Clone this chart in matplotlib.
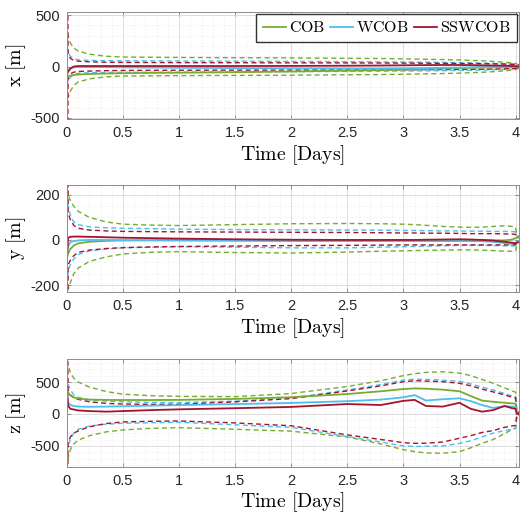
import matplotlib
matplotlib.use('Agg')
import matplotlib.pyplot as plt
from matplotlib.ticker import MultipleLocator

# time axis [days]
t = [0, 0.01, 0.03, 0.06, 0.1, 0.2, 0.35, 0.5, 0.75, 1.0, 1.5, 2.0, 2.5, 2.8, 3.0,
     3.1, 3.2, 3.35, 3.5, 3.6, 3.7, 3.8, 3.9, 3.97, 4.0, 4.01, 4.03]

# ---- x [m]
cob_x = [-100, -95, -88, -82, -78, -72, -68, -65, -62, -60, -55, -48, -40, -35, -30,
         -27, -24, -20, -15, -12, -10, -8, -5, -3, -1, 0, 2]
wcob_x = [-60, -40, -15, -8, -5, -5, -6, -8, -10, -12, -15, -18, -20, -20, -18,
          -17, -15, -12, -10, -8, -6, -5, -3, -2, 0, 1, 2]
ssw_x = [-80, -50, -20, 0, 5, 5, 5, 5, 5, 5, 5, 6, 8, 10, 12,
         13, 14, 15, 15, 14, 12, 10, 8, 5, 3, 1, 0]
cob_x_hi = [320, 290, 230, 180, 150, 120, 100, 92, 90, 88, 86, 84, 80, 78, 75,
            73, 71, 68, 64, 60, 56, 50, 42, 35, 30, 22, 18]
cob_x_lo = [-320, -300, -240, -185, -150, -120, -100, -92, -90, -88, -86, -84, -80, -78, -75,
            -73, -71, -68, -64, -60, -56, -50, -42, -35, -30, -22, -18]
wcob_x_hi = [200, 140, 100, 75, 65, 60, 57, 56, 55, 54, 52, 50, 47, 45, 44,
             43, 42, 40, 38, 36, 34, 31, 27, 24, 20, 16, 14]
wcob_x_lo = [-200, -150, -105, -78, -66, -60, -57, -56, -55, -54, -52, -50, -47, -45, -44,
             -43, -42, -40, -38, -36, -34, -31, -27, -24, -20, -16, -14]
ssw_x_hi = [2000, 120, 80, 60, 52, 46, 42, 40, 39, 38, 37, 36, 35, 34, 33,
            33, 32, 31, 30, 29, 28, 26, 24, 22, 20, 16, 14]
ssw_x_lo = [-2000, -100, -70, -55, -48, -44, -40, -38, -37, -36, -35, -34, -33, -32, -31,
            -31, -30, -29, -28, -27, -26, -24, -22, -20, -18, -15, -13]

# ---- y [m]
cob_y = [-80, -60, -40, -25, -15, -8, -4, -2, -1, 0, 0, 0, 0, 0, 0,
         0, 0, 0, 0, 0, 0, -1, -2, 2, 8, 10, 12]
wcob_y = [-50, -30, -10, -5, -2, 0, 0, -1, -2, -3, -4, -5, -5, -5, -5,
          -5, -5, -5, -5, -5, -6, -8, -14, -18, -12, -8, -5]
ssw_y = [-80, 10, 14, 15, 15, 14, 12, 10, 8, 6, 3, 1, 0, 0, 0,
         0, 1, 2, 3, 2, 0, -3, -8, -12, -15, -12, -10]
cob_y_hi = [230, 200, 175, 150, 127, 100, 80, 70, 66, 64, 68, 72, 73, 72, 70,
            68, 65, 60, 57, 56, 57, 60, 63, 60, 55, 25, 20]
cob_y_lo = [-230, -220, -190, -150, -125, -95, -75, -62, -55, -52, -56, -58, -54, -50, -48,
            -47, -46, -45, -44, -44, -45, -47, -50, -50, -48, -22, -18]
wcob_y_hi = [200, 150, 110, 80, 68, 58, 54, 52, 50, 48, 46, 45, 44, 43, 42,
             42, 41, 40, 40, 39, 39, 38, 38, 37, 36, 18, 14]
wcob_y_lo = [-200, -140, -110, -85, -65, -48, -40, -35, -32, -30, -32, -35, -35, -32, -30,
             -29, -28, -26, -24, -24, -24, -25, -26, -26, -25, -12, -10]
ssw_y_hi = [2000, 120, 90, 65, 52, 44, 40, 38, 37, 36, 35, 34, 33, 32, 31,
            31, 30, 30, 29, 28, 28, 28, 27, 26, 25, 12, 10]
ssw_y_lo = [-2000, -110, -90, -70, -55, -45, -38, -34, -31, -29, -27, -25, -24, -23, -22,
            -22, -22, -22, -22, -22, -22, -22, -22, -22, -21, -10, -8]

# ---- z [m]
cob_z = [390, 330, 290, 260, 240, 225, 220, 218, 218, 220, 235, 262, 312, 355, 390,
         400, 395, 380, 355, 280, 210, 190, 175, 165, 160, 20, 0]
wcob_z = [330, 180, 140, 125, 115, 112, 115, 120, 130, 138, 155, 172, 200, 225, 260,
          295, 210, 230, 245, 200, 140, 95, 120, 115, 110, 5, -5]
ssw_z = [400, 130, 80, 70, 55, 45, 36, 45, 60, 72, 90, 110, 155, 140, 205,
         220, 125, 115, 175, 80, 36, 60, 125, 90, 80, 10, -10]
cob_z_hi = [850, 760, 650, 560, 500, 420, 350, 310, 285, 275, 270, 320, 430, 520, 600,
            630, 650, 660, 640, 600, 540, 480, 410, 360, 340, 60, 40]
cob_z_lo = [-850, -700, -560, -470, -410, -340, -280, -250, -225, -215, -240, -270, -360, -470, -560,
            -590, -610, -615, -590, -530, -460, -400, -310, -240, -220, -60, -40]
wcob_z_hi = [600, 470, 380, 300, 260, 220, 200, 190, 180, 177, 200, 250, 375, 460, 530,
             545, 540, 530, 510, 470, 420, 375, 320, 280, 270, 40, 30]
wcob_z_lo = [-600, -500, -400, -300, -240, -190, -160, -146, -138, -130, -170, -210, -354, -440, -500,
             -510, -505, -500, -460, -420, -360, -300, -260, -240, -230, -40, -30]
ssw_z_hi = [2000, 380, 300, 250, 229, 190, 165, 155, 150, 151, 190, 240, 360, 440, 505,
            520, 515, 505, 480, 440, 390, 345, 300, 260, 250, 35, 25]
ssw_z_lo = [-2000, -450, -360, -300, -266, -200, -150, -125, -115, -110, -140, -185, -328, -400, -450,
            -460, -458, -440, -380, -340, -290, -260, -210, -188, -180, -30, -20]

labels = ['COB', 'WCOB', 'SSWCOB']
colors = ['#77AC30', '#4DBEEE', '#A2142F']

plt.rcParams['mathtext.fontset'] = 'cm'
plt.rcParams['font.family'] = ['Liberation Sans', 'DejaVu Sans']

fig = plt.figure(figsize=(5.2, 5.13), dpi=100)

panels = [
    ([0.1288, 0.768, 0.8692, 0.2086], 'x', (cob_x, wcob_x, ssw_x),
     ((cob_x_hi, cob_x_lo), (wcob_x_hi, wcob_x_lo), (ssw_x_hi, ssw_x_lo)),
     (-510, 530), [-500, 0, 500], 100),
    ([0.1288, 0.4308, 0.8692, 0.2086], 'y', (cob_y, wcob_y, ssw_y),
     ((cob_y_hi, cob_y_lo), (wcob_y_hi, wcob_y_lo), (ssw_y_hi, ssw_y_lo)),
     (-231, 244), [-200, 0, 200], 50),
    ([0.1288, 0.0897, 0.8692, 0.2105], 'z', (cob_z, wcob_z, ssw_z),
     ((cob_z_hi, cob_z_lo), (wcob_z_hi, wcob_z_lo), (ssw_z_hi, ssw_z_lo)),
     (-830, 860), [-500, 0, 500], 100),
]

dash = (0, (3.6, 2.4))
for k, (pos, name, est, bounds, ylim, yticks, yminor) in enumerate(panels):
    ax = fig.add_axes(pos)
    lines = []
    for i in range(3):
        hi, lo = bounds[i]
        ax.plot(t, hi, color=colors[i], lw=1.0, linestyle=dash)
        ax.plot(t, lo, color=colors[i], lw=1.0, linestyle=dash)
    for i in range(3):
        ln, = ax.plot(t, est[i], color=colors[i], lw=1.3, label=r'$\mathrm{%s}$' % labels[i])
        lines.append(ln)

    ax.set_xlim(0, 4.03)
    ax.set_ylim(*ylim)
    ax.set_xticks([0, 0.5, 1, 1.5, 2, 2.5, 3, 3.5, 4])
    ax.set_xticklabels(['0', '0.5', '1', '1.5', '2', '2.5', '3', '3.5', '4'])
    ax.set_yticks(yticks)
    ax.set_yticklabels([str(v) for v in yticks])
    ax.xaxis.set_minor_locator(MultipleLocator(0.1))
    ax.yaxis.set_minor_locator(MultipleLocator(yminor))
    ax.grid(True, which='major', color='#d8d8d8', lw=0.6)
    ax.grid(True, which='minor', color='#e6e6e6', lw=0.5, linestyle=':')
    ax.set_axisbelow(True)
    ax.tick_params(which='both', direction='in', top=True, right=True,
                   labelsize=10.5, colors='#262626', pad=5)
    ax.tick_params(which='major', length=3, width=0.6, color='#808080')
    ax.tick_params(which='minor', length=0)
    for sp in ax.spines.values():
        sp.set_color('#8c8c8c')
        sp.set_linewidth(0.7)

    ax.set_xlabel(r'$\mathrm{Time\ [Days]}$', fontsize=14.3, labelpad=2)
    ax.set_ylabel(r'$\mathrm{%s\ [m]}$' % name, fontsize=14.3, labelpad=2)

    if k == 0:
        ax.legend(handles=lines, loc='upper right', ncol=3, fontsize=11.5,
                  frameon=True, fancybox=False, edgecolor='#333333', framealpha=1,
                  handlelength=1.45, handletextpad=0.2, columnspacing=0.3,
                  borderpad=0.4, borderaxespad=0.12)

fig.savefig('out.png', dpi=100)
plt.close(fig)
